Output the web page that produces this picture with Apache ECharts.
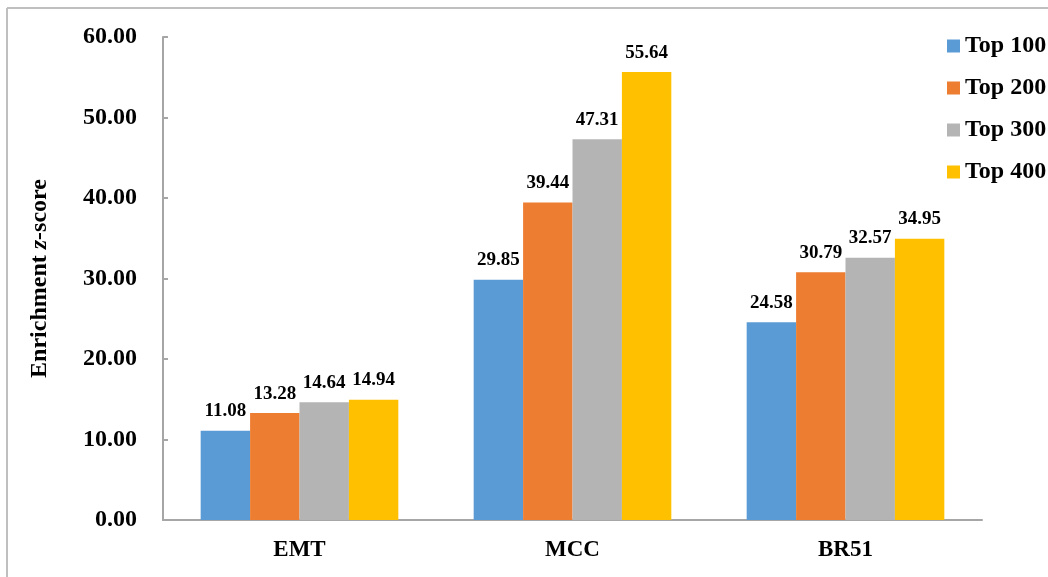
<!DOCTYPE html>
<html>
<head>
<meta charset="utf-8">
<script src="https://cdn.jsdelivr.net/npm/echarts@6/dist/echarts.min.js"></script>
<style>html,body{margin:0;padding:0;background:#fff;}#c{width:1048px;height:577px;}</style>
</head>
<body>
<div id="c"></div>
<script>
const categories = ['EMT', 'MCC', 'BR51'];
const seriesNames = ['Top 100', 'Top 200', 'Top 300', 'Top 400'];
const top100 = [11.08, 29.85, 24.58];
const top200 = [13.28, 39.44, 30.79];
const top300 = [14.64, 47.31, 32.57];
const top400 = [14.94, 55.64, 34.95];
const colors = ['#5B9BD5', '#ED7D31', '#B4B4B4', '#FFC000'];
const seriesValues = [top100, top200, top300, top400];

const FONT = '"Liberation Serif", "Times New Roman", serif';
const chart = echarts.init(document.getElementById('c'));
chart.setOption({
  animation: false,
  grid: { left: 163, right: 66, top: 37, bottom: 57 },
  legend: {
    orient: 'vertical', left: 947, top: 34, padding: 0,
    itemWidth: 13, itemHeight: 13, itemGap: 18, itemTextGap: 5,
    icon: 'rect',
    textStyle: { fontFamily: FONT, fontWeight: 'bold', fontSize: 24, color: '#000' },
    data: seriesNames
  },
  xAxis: {
    type: 'category', data: categories,
    axisLine: { lineStyle: { color: '#A6A6A6', width: 2 } },
    axisTick: { show: false },
    axisLabel: { fontFamily: FONT, fontWeight: 'bold', fontSize: 23, color: '#000', margin: 19 }
  },
  yAxis: {
    type: 'value', min: 0, max: 60, interval: 10,
    name: '{a|Enrichment }{b|z}{a|-score}',
    nameLocation: 'middle', nameRotate: 90, nameGap: 111,
    nameTextStyle: {
      rich: {
        a: { fontFamily: FONT, fontWeight: 'bold', fontSize: 24, color: '#000' },
        b: { fontFamily: FONT, fontWeight: 'bold', fontStyle: 'italic', fontSize: 24, color: '#000' }
      }
    },
    splitLine: { show: false },
    axisLine: { show: true, lineStyle: { color: '#A6A6A6', width: 2 } },
    axisTick: { show: true, inside: true, length: 5, lineStyle: { color: '#A6A6A6', width: 2 } },
    axisLabel: { fontFamily: FONT, fontWeight: 'bold', fontSize: 24, color: '#000', margin: 26,
      formatter: v => v.toFixed(2) }
  },
  graphic: [
    { type: 'line', shape: { x1: 7, y1: 8, x2: 1048, y2: 8 }, style: { stroke: '#BFBFBF', lineWidth: 2 } },
    { type: 'line', shape: { x1: 7, y1: 8, x2: 7, y2: 577 }, style: { stroke: '#BFBFBF', lineWidth: 2 } }
  ],
  series: seriesNames.map((n, i) => ({
    name: n, type: 'bar', data: seriesValues[i],
    barGap: '0%', barCategoryGap: '27.6%',
    itemStyle: { color: colors[i] },
    label: { show: true, position: 'top', distance: 10,
      fontFamily: FONT, fontWeight: 'bold', fontSize: 19, color: '#000',
      formatter: p => p.value.toFixed(2) }
  }))
});
</script>
</body>
</html>
